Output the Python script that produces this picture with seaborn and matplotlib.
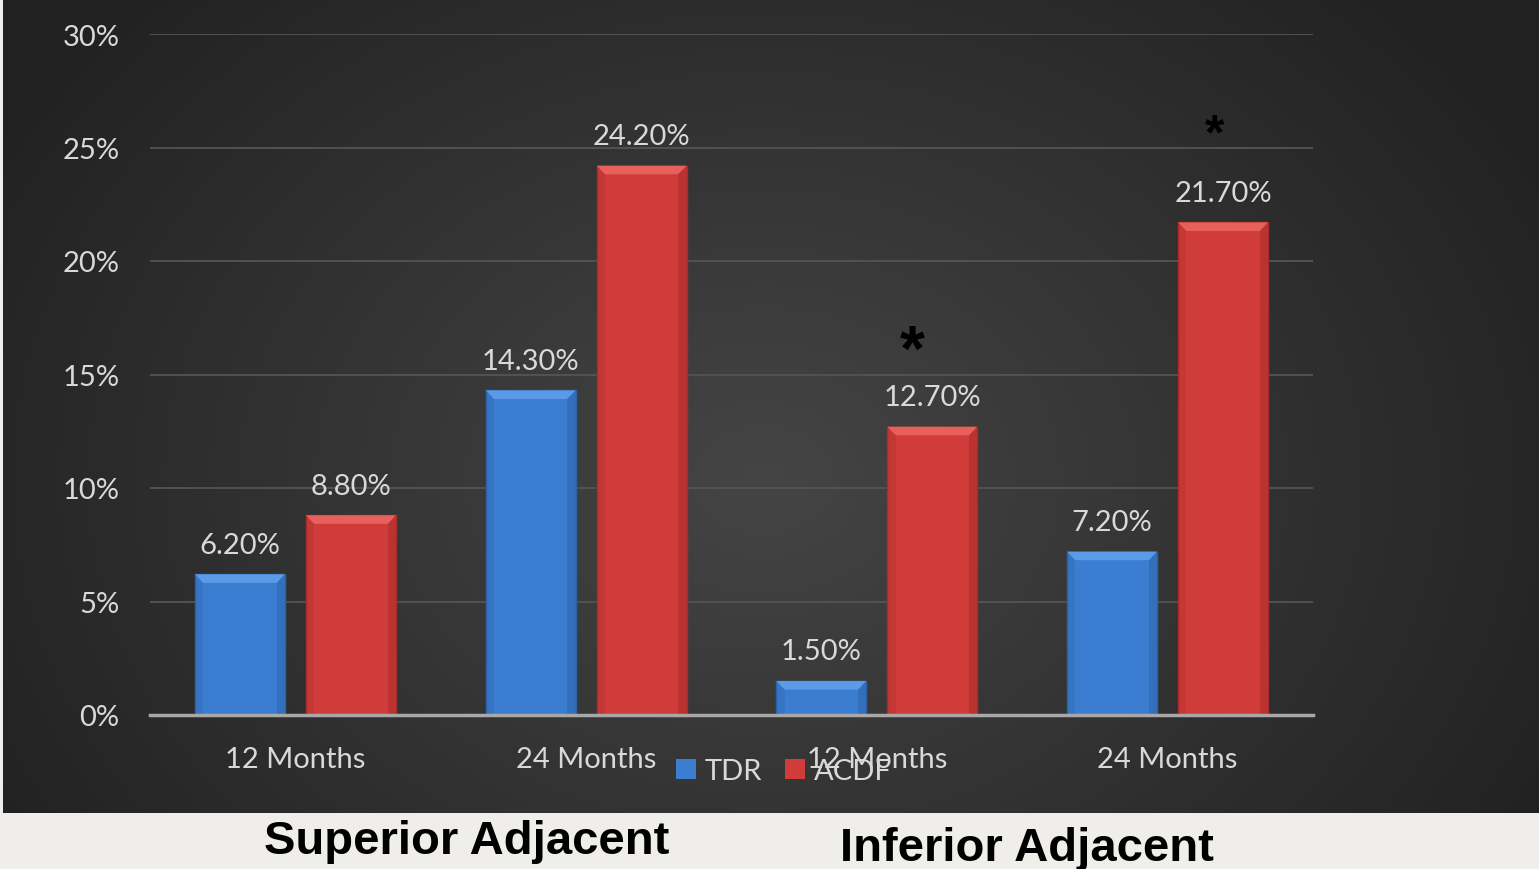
import numpy as np
import pandas as pd
import matplotlib
matplotlib.use("Agg")
import matplotlib.pyplot as plt
from matplotlib.patches import Polygon
import seaborn as sns

# ---- data -------------------------------------------------------------
periods = ["12 Months", "24 Months", "12 Months ", "24 Months "]
tdr_values = [6.2, 14.3, 1.5, 7.2]
acdf_values = [8.8, 24.2, 12.7, 21.7]
series_names = ["TDR", "ACDF"]
y_ticks = [0, 5, 10, 15, 20, 25, 30]
group_titles = ["Superior Adjacent", "Inferior Adjacent"]
# significance markers: (category position, height in %, font size)
star_marks = [(2.12, 15.95, 46), (3.16, 25.55, 36)]

df = pd.DataFrame({
    "period": periods * 2,
    "value": tdr_values + acdf_values,
    "series": [series_names[0]] * 4 + [series_names[1]] * 4,
})

sns.set_theme(style="dark")
plt.rcParams["font.family"] = ["Lato", "DejaVu Sans"]

W, H = 1539, 870
fig = plt.figure(figsize=(W / 100, H / 100), dpi=100)
fig.patch.set_facecolor("#f0eeeb")

# ---- dark radial backdrop ---------------------------------------------
bg = fig.add_axes([3 / W, (H - 814) / H, (W - 3) / W, 814 / H], zorder=-2)
yy, xx = np.mgrid[0:814, 0:1536]
r = np.sqrt(((xx - 760) / 900.0) ** 2 + ((yy - 480) / 700.0) ** 2)
shade = np.clip(0.27 - 0.14 * r, 0.13, 0.27)
bg.imshow(np.dstack([shade] * 3), aspect="auto", interpolation="bilinear")
bg.axis("off")

# ---- main axes --------------------------------------------------------
ax = fig.add_axes([150 / W, (H - 716) / H, (1313 - 150) / W, (716 - 35) / H])
ax.set_facecolor("none")

palette = {"TDR": "#3b7dd0", "ACDF": "#d03c3a"}
sns.barplot(data=df, x="period", y="value", hue="series", order=periods,
            hue_order=series_names, palette=palette, width=0.764, gap=0.19,
            saturation=1, ax=ax, edgecolor="none", zorder=3)

ax.set_xlim(-0.5, 3.5)
ax.set_ylim(0, 30)
ax.set_yticks(y_ticks)
ax.set_yticklabels([f"{t}%" for t in y_ticks])
ax.set_xticks(range(4))
ax.set_xticklabels([p.strip() for p in periods])
ax.set_xlabel("")
ax.set_ylabel("")
ax.tick_params(axis="both", length=0, colors="#d9d9d9", labelsize=21)
ax.tick_params(axis="x", pad=22)
ax.tick_params(axis="y", pad=22)
ax.yaxis.grid(True, color="#545454", linewidth=1.3, zorder=0)
ax.xaxis.grid(False)
for side in ["top", "right", "left"]:
    ax.spines[side].set_visible(False)
ax.spines["bottom"].set_color("#a8a8a8")
ax.spines["bottom"].set_linewidth(2.5)
ax.spines["bottom"].set_zorder(5)

# bevelled faces on each bar
light = {"TDR": "#5a9ae6", "ACDF": "#e8605c"}
dark = {"TDR": "#2c63a8", "ACDF": "#a82c2a"}
bx = 0.028   # bevel width in category units
by = 0.38    # bevel height in % units
for container, name in zip(ax.containers, series_names):
    for p in container.patches:
        x0, w, h = p.get_x(), p.get_width(), p.get_height()
        x1 = x0 + w
        bh = min(by, h / 2)
        ax.add_patch(Polygon([(x0, h), (x1, h), (x1 - bx, h - bh), (x0 + bx, h - bh)],
                             closed=True, facecolor=light[name], edgecolor="none", zorder=4))
        ax.add_patch(Polygon([(x1, h), (x1, 0), (x1 - bx, 0), (x1 - bx, h - bh)],
                             closed=True, facecolor=dark[name], edgecolor="none", alpha=0.5, zorder=4))
        ax.add_patch(Polygon([(x0, h), (x0, 0), (x0 + bx, 0), (x0 + bx, h - bh)],
                             closed=True, facecolor=dark[name], edgecolor="none", alpha=0.3, zorder=4))
        p.set_edgecolor(dark[name])
        p.set_linewidth(1.0)
    ax.bar_label(container, labels=[f"{v:.2f}%" for v in container.datavalues],
                 padding=12, color="#d9d9d9", fontsize=21)

# significance stars
for sx, sy, fs in star_marks:
    ax.text(sx, sy, "*", ha="center", va="center", fontsize=fs,
            fontweight="bold", color="black", family="Liberation Sans", zorder=6)

# legend
sns.move_legend(ax, loc="center",
                bbox_to_anchor=((784 - 150) / (1313 - 150), -(772 - 716) / (716 - 35)),
                ncol=2, frameon=False, title=None, fontsize=21, labelcolor="#d9d9d9",
                handlelength=0.68, handleheight=0.68, handletextpad=0.3, columnspacing=0.8)

# group captions on the light strip
fig.text(467 / W, 1 - 842 / H, group_titles[0], ha="center", va="center",
         fontsize=34, fontweight="bold", color="black", family="Liberation Sans")
fig.text(1027 / W, 1 - 849 / H, group_titles[1], ha="center", va="center",
         fontsize=34, fontweight="bold", color="black", family="Liberation Sans")

fig.savefig("out.png", dpi=100, facecolor=fig.get_facecolor())
